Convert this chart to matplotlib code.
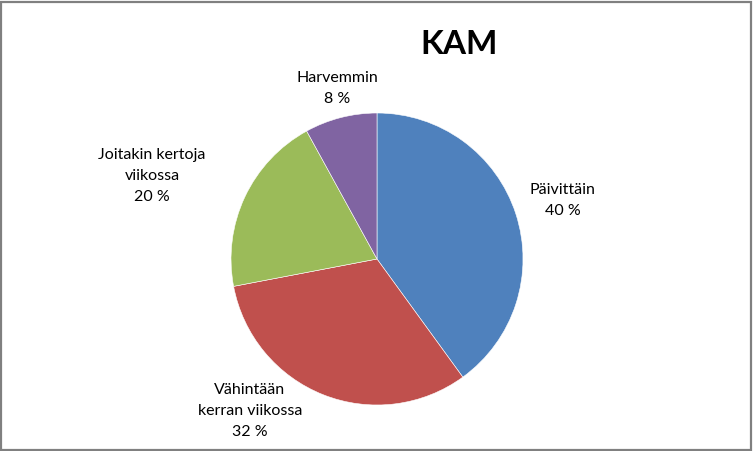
import matplotlib
matplotlib.use("Agg")
import matplotlib.pyplot as plt
from matplotlib.patches import Rectangle

plt.rcParams['font.family'] = ['Lato', 'DejaVu Sans']

categories = ["Päivittäin", "Vähintään\nkerran viikossa", "Joitakin kertoja\nviikossa", "Harvemmin"]
values = [40, 32, 20, 8]
colors = ["#4F81BD", "#C0504D", "#9BBB59", "#8064A2"]
label_pos = [(1.27, 0.40), (-0.87, -1.04), (-1.54, 0.57), (-0.27, 1.17)]

W, H = 753, 451
fig = plt.figure(figsize=(W / 100, H / 100), dpi=100)
fig.patch.set_facecolor("white")

cx, cy, r = 377, 259, 146
ax = fig.add_axes([(cx - r) / W, (H - cy - r) / H, 2 * r / W, 2 * r / H])
ax.pie(values, colors=colors, startangle=90, counterclock=False, radius=1,
       wedgeprops=dict(linewidth=0.4, edgecolor="white"))
ax.set_xlim(-1, 1)
ax.set_ylim(-1, 1)
ax.set_aspect("equal")
ax.axis("off")

for cat, v, (tx, ty) in zip(categories, values, label_pos):
    ax.text(tx, ty, f"{cat}\n{v} %", ha="center", va="center", fontsize=11.5,
            color="black", linespacing=1.65, clip_on=False)

fig.text(459 / W, 1 - 45 / H, "KAM", ha="center", va="center", fontsize=24,
         fontweight="bold", color="black")

fig.patches.append(Rectangle((1 / W, 1 / H), 1 - 3 / W, 1 - 3 / H,
                             transform=fig.transFigure, fill=False,
                             edgecolor="#808080", linewidth=1.6))

fig.savefig("out.png", dpi=100)
